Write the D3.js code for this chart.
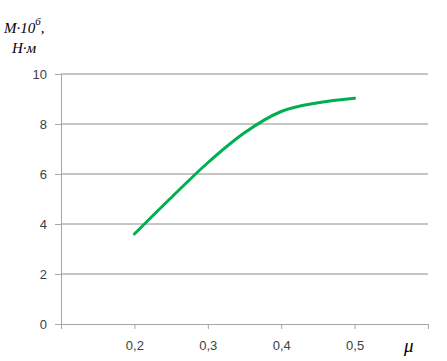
<!DOCTYPE html>
<html>
<head>
<meta charset="utf-8">
<script src="https://cdn.jsdelivr.net/npm/d3@7"></script>
<style>
  body { margin: 0; background: #fff; }
  svg { display: block; }
  .tick text { font-family: "Liberation Sans", Arial, sans-serif; font-size: 13px; fill: #404040; }
</style>
</head>
<body>
<div id="chart"></div>
<script>
// data
const muValues = [0.2, 0.25, 0.3, 0.35, 0.4, 0.45, 0.5];
const momentValues = [3.6, 5.05, 6.45, 7.65, 8.5, 8.85, 9.03];
const yTicks = [0, 2, 4, 6, 8, 10];
const xTicks = [0.2, 0.3, 0.4, 0.5];

const width = 447, height = 361;
const margin = { top: 74, right: 19, bottom: 37, left: 61 };

const svg = d3.select("#chart")
  .append("svg")
  .attr("width", width)
  .attr("height", height);

const plotW = width - margin.left - margin.right;
const plotH = height - margin.top - margin.bottom;

const g = svg.append("g")
  .attr("transform", `translate(${margin.left}, ${margin.top})`);

// scales
const xScale = d3.scaleLinear().domain([0.1, 0.6]).range([0, plotW]);
const yScale = d3.scaleLinear().domain([0, 10]).range([plotH, 0]);

// horizontal gridlines
g.selectAll(".grid")
  .data(yTicks.filter((d) => d > 0))
  .enter()
  .append("line")
  .attr("class", "grid")
  .attr("x1", 0)
  .attr("x2", plotW)
  .attr("y1", (d) => yScale(d))
  .attr("y2", (d) => yScale(d))
  .attr("stroke", "#8c8c8c")
  .attr("stroke-width", 1);

// y axis
const yAxis = g.append("g")
  .call(d3.axisLeft(yScale).tickValues(yTicks).tickSize(6).tickPadding(8));
yAxis.select(".domain").attr("stroke", "#a6a6a6");
yAxis.selectAll(".tick line").attr("stroke", "#a6a6a6");

// x axis
const xAxis = g.append("g")
  .attr("transform", `translate(0, ${plotH})`)
  .call(
    d3.axisBottom(xScale)
      .tickValues([0.1].concat(xTicks, [0.6]))
      .tickSize(5)
      .tickSizeOuter(0)
      .tickPadding(12)
      .tickFormat((d) => (d > 0.15 && d < 0.55 ? d3.format(".1f")(d).replace(".", ",") : ""))
  );
xAxis.select(".domain").attr("stroke", "#a6a6a6");
xAxis.selectAll(".tick line").attr("stroke", "#a6a6a6");

// line
const line = d3.line()
  .x((d, i) => xScale(muValues[i]))
  .y((d) => yScale(d))
  .curve(d3.curveMonotoneX);

g.append("path")
  .datum(momentValues)
  .attr("fill", "none")
  .attr("stroke", "#00b050")
  .attr("stroke-width", 3)
  .attr("stroke-linecap", "round")
  .attr("d", line);

// axis titles
const yTitle = svg.append("text")
  .attr("x", 4)
  .attr("y", 33)
  .attr("font-family", "'Liberation Serif', 'Times New Roman', serif")
  .attr("font-style", "italic")
  .attr("font-size", 15)
  .attr("fill", "#000");
yTitle.append("tspan").text("М·10");
yTitle.append("tspan").attr("dy", -8).attr("font-size", 11).text("6");
yTitle.append("tspan").attr("dy", 8).text(",");

svg.append("text")
  .attr("x", 12)
  .attr("y", 53)
  .attr("font-family", "'Liberation Serif', 'Times New Roman', serif")
  .attr("font-style", "italic")
  .attr("font-size", 15)
  .attr("fill", "#000")
  .text("Н·м");

svg.append("text")
  .attr("x", 404)
  .attr("y", 352)
  .attr("font-family", "'Liberation Serif', 'Times New Roman', serif")
  .attr("font-style", "italic")
  .attr("font-size", 19)
  .attr("fill", "#000")
  .text("μ");
</script>
</body>
</html>
